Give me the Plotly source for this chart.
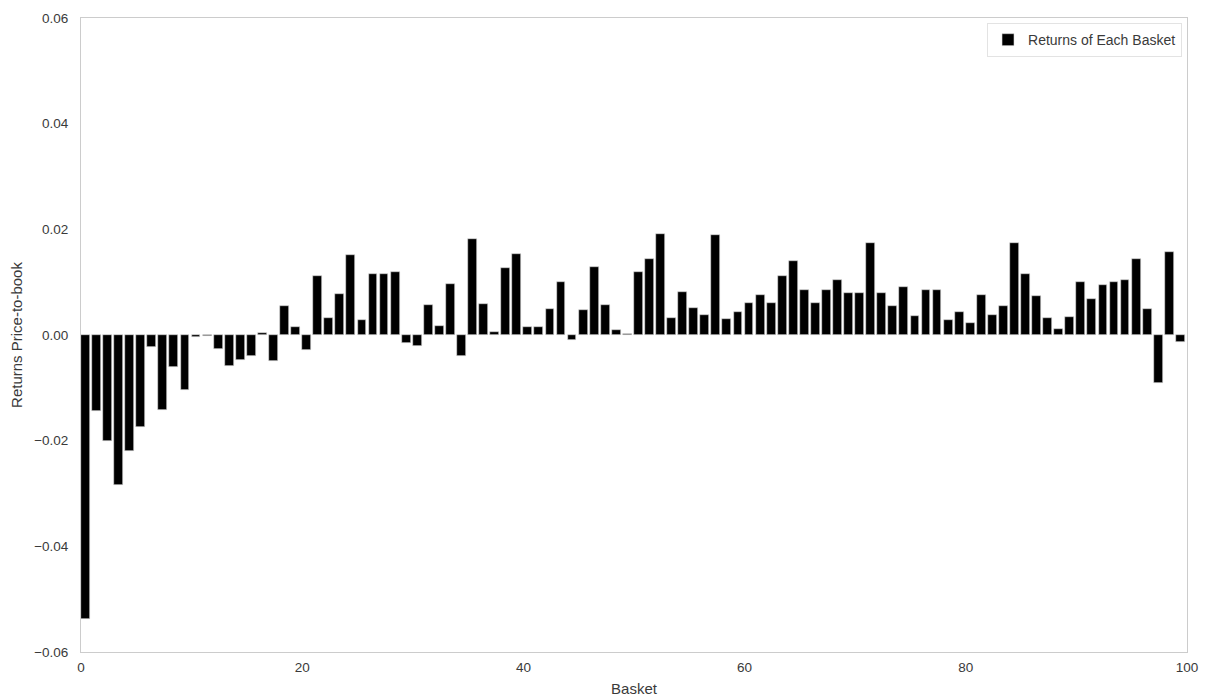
import plotly.graph_objects as go

baskets = list(range(100))
returns = [
    -0.0538, -0.0144, -0.0201, -0.0283, -0.0219, -0.0174, -0.0023, -0.0141, -0.0061, -0.0104,
    -0.0004, -0.0002, -0.0026, -0.0058, -0.0048, -0.0040, 0.0003, -0.0050, 0.0054, 0.0015,
    -0.0028, 0.0112, 0.0033, 0.0078, 0.0151, 0.0028, 0.0116, 0.0116, 0.0120, -0.0016,
    -0.0021, 0.0057, 0.0017, 0.0097, -0.0039, 0.0182, 0.0059, 0.0006, 0.0126, 0.0154,
    0.0015, 0.0016, 0.0049, 0.0100, -0.0010, 0.0047, 0.0129, 0.0057, 0.0009, 0.0001,
    0.0119, 0.0143, 0.0191, 0.0033, 0.0081, 0.0052, 0.0038, 0.0189, 0.0030, 0.0044,
    0.0060, 0.0076, 0.0060, 0.0111, 0.0140, 0.0085, 0.0060, 0.0086, 0.0105, 0.0079,
    0.0079, 0.0175, 0.0079, 0.0054, 0.0090, 0.0036, 0.0085, 0.0086, 0.0028, 0.0044,
    0.0022, 0.0076, 0.0038, 0.0054, 0.0175, 0.0116, 0.0073, 0.0033, 0.0011, 0.0035,
    0.0100, 0.0068, 0.0094, 0.0100, 0.0105, 0.0143, 0.0049, -0.0090, 0.0158, -0.0013,
]
x_ticks = [0, 20, 40, 60, 80, 100]
y_ticks = [-0.06, -0.04, -0.02, 0.00, 0.02, 0.04, 0.06]
bar_width = 0.8

fig = go.Figure()
fig.add_trace(go.Bar(
    x=[b + bar_width / 2 for b in baskets],
    y=returns,
    width=bar_width,
    name="Returns of Each Basket",
    marker=dict(color="black", line=dict(color="#dddddd", width=0.6)),
    showlegend=True,
))

font_family = "Liberation Sans, Arial, sans-serif"
fig.update_layout(
    width=1205, height=697,
    margin=dict(l=81, r=18, t=18, b=45),
    paper_bgcolor="white",
    plot_bgcolor="white",
    font=dict(family=font_family, size=13.5, color="#3a3a3a"),
    bargap=0,
    legend=dict(
        x=0.9955, y=0.992, xanchor="right", yanchor="top",
        bgcolor="white", bordercolor="#e3e3e3", borderwidth=1,
        font=dict(size=14, color="#3a3a3a"),
    ),
    xaxis=dict(
        range=[0, 100], tickvals=x_ticks, showgrid=False, zeroline=False,
        showline=True, linecolor="#cccccc", linewidth=1, mirror=True,
        ticks="outside", ticklen=3, tickcolor="rgba(0,0,0,0)", automargin=False,
        title=dict(text="Basket", standoff=10, font=dict(size=15)),
    ),
    yaxis=dict(
        range=[-0.06, 0.06], tickvals=y_ticks, tickformat=".2f", showgrid=False, zeroline=False,
        showline=True, linecolor="#cccccc", linewidth=1, mirror=True,
        ticks="outside", ticklen=9, tickcolor="rgba(0,0,0,0)", automargin=False,
        title=dict(text="Returns Price-to-book", standoff=7, font=dict(size=15)),
    ),
)

fig.write_html(
    "out.html",
    config={"displayModeBar": False},
    post_script="document.body.style.margin='0';document.body.style.overflow='hidden';",
)
